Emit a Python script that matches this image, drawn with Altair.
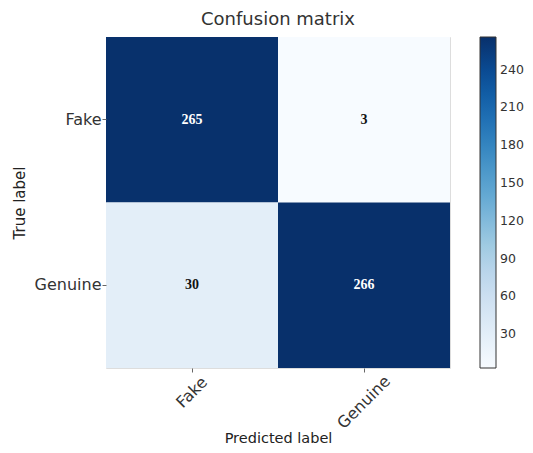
import altair as alt
import pandas as pd

true_labels = ["Fake", "Fake", "Genuine", "Genuine"]
pred_labels = ["Fake", "Genuine", "Fake", "Genuine"]
counts = [265, 3, 30, 266]
classes = ["Fake", "Genuine"]
cbar_ticks = [30, 60, 90, 120, 150, 180, 210, 240]

# matplotlib "Blues" colormap stops
blues = ["#f7fbff", "#deebf7", "#c6dbef", "#9ecae1", "#6baed6",
         "#4292c6", "#2171b5", "#08519c", "#08306b"]
vmin, vmax = min(counts), max(counts)
stops = [vmin + (vmax - vmin) * i / (len(blues) - 1) for i in range(len(blues))]

df = pd.DataFrame({"true": true_labels, "pred": pred_labels, "count": counts})

base = alt.Chart(df)

rect = base.mark_rect().encode(
    x=alt.X("pred:N", sort=classes, title="Predicted label",
            scale=alt.Scale(paddingInner=0, paddingOuter=0),
            axis=alt.Axis(labelAngle=315, labelAlign="center", labelBaseline="middle",
                          labelPadding={"condition": {"test": "datum.value === 'Genuine'", "value": 30},
                                        "value": 20},
                          labelFontSize=16, titleFontSize=14.5, titleFontWeight="normal",
                          labelColor="#333", titleColor="#222", domain=False,
                          tickColor="#666", tickSize=4,
                          titleY=63, titleBaseline="top")),
    y=alt.Y("true:N", sort=classes, title="True label",
            scale=alt.Scale(paddingInner=0, paddingOuter=0),
            axis=alt.Axis(labelFontSize=16, titleFontSize=15, titleFontWeight="normal",
                          labelColor="#333", titleColor="#222", domain=False,
                          tickColor="#666", tickSize=4, labelPadding=1,
                          titleX=-87, titleY=165.5, titleBaseline="middle")),
    color=alt.Color("count:Q",
                    scale=alt.Scale(domain=stops, range=blues),
                    legend=alt.Legend(title=None, values=cbar_ticks, gradientLength=331,
                                      gradientThickness=16, labelFontSize=12.5,
                                      labelColor="#333", offset=30, labelOffset=4,
                                      gradientStrokeColor="#333", gradientStrokeWidth=1)),
)

text = base.mark_text(font="Liberation Serif", fontWeight="bold", fontSize=14).encode(
    x=alt.X("pred:N", sort=classes),
    y=alt.Y("true:N", sort=classes),
    text="count:Q",
    color=alt.condition(alt.datum["count"] > 133, alt.value("white"), alt.value("#111")),
)

chart = (rect + text).properties(
    width=344, height=331,
    autosize=alt.AutoSizeParams(type="none"),
    padding={"left": 98, "top": 29, "right": 75, "bottom": 77},
    title=alt.TitleParams("Confusion matrix", fontSize=18, fontWeight="normal",
                          font="DejaVu Sans", color="#333", offset=8),
).configure_view(stroke="#333", strokeWidth=1).configure(font="DejaVu Sans")

chart.save("out.html", embed_options={"renderer": "svg", "actions": False})
